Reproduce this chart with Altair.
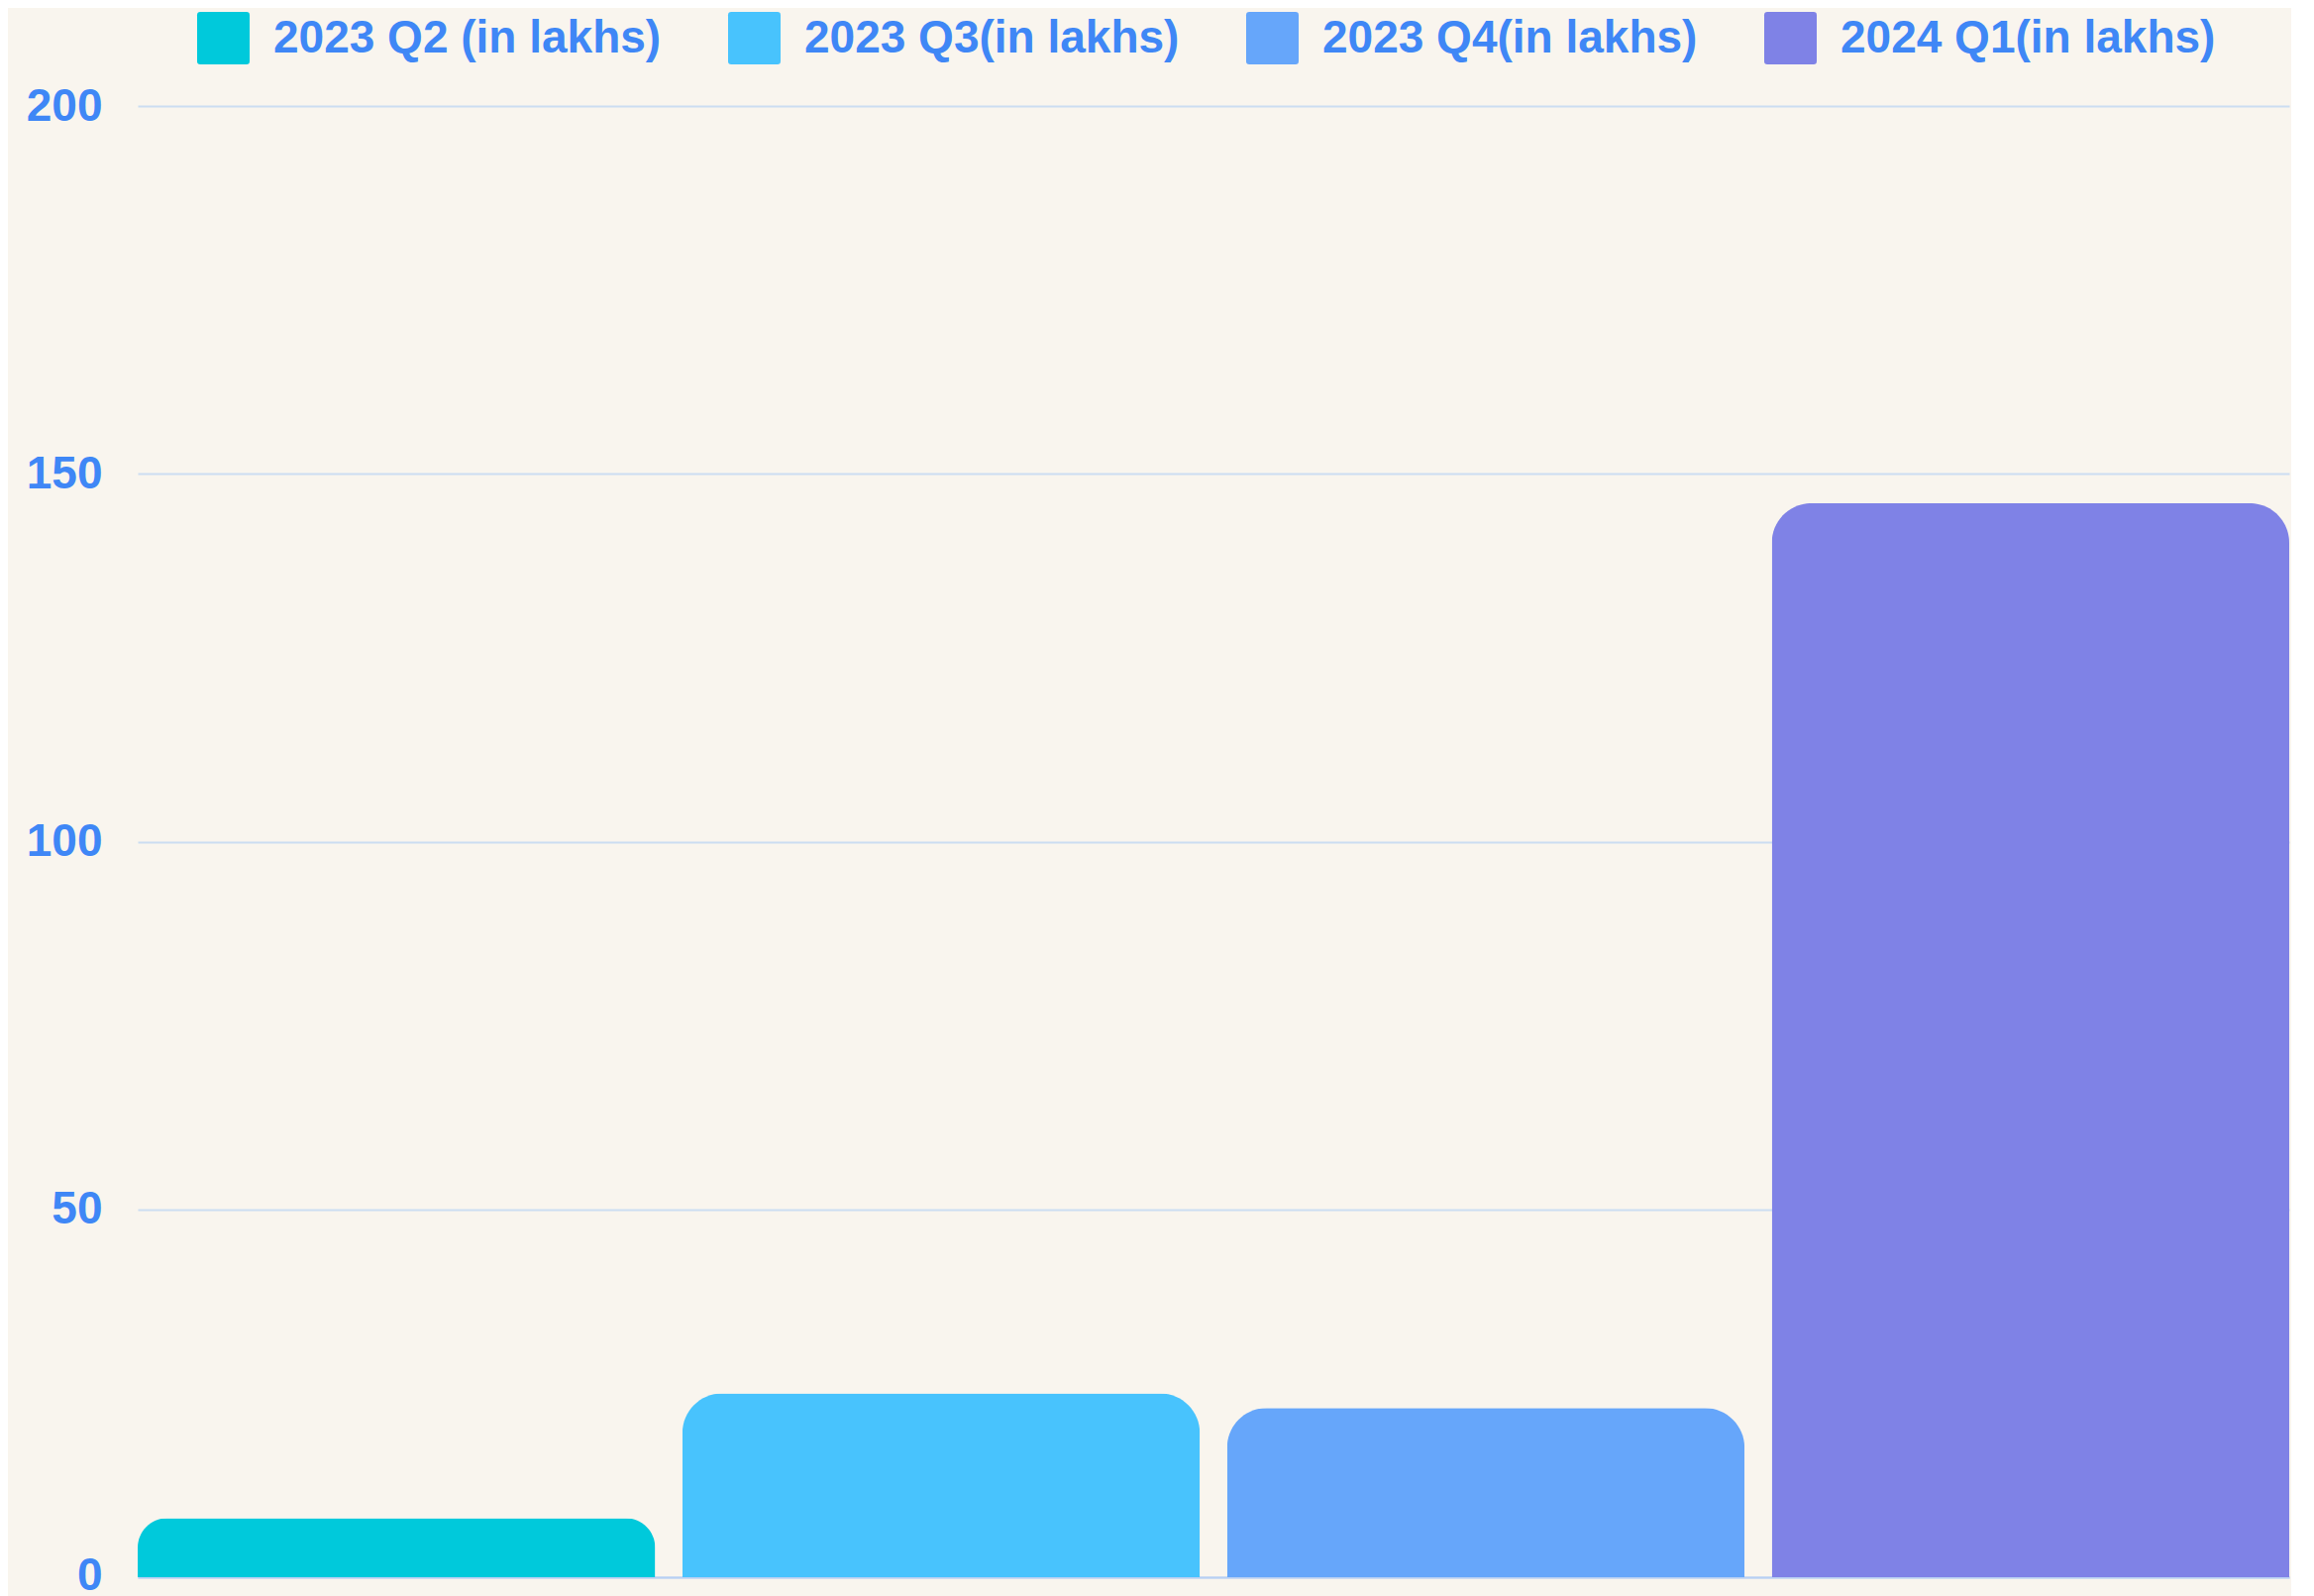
import altair as alt
import pandas as pd

categories = ["2023 Q2 (in lakhs)", "2023 Q3(in lakhs)", "2023 Q4(in lakhs)", "2024 Q1(in lakhs)"]
values = [8, 25, 23, 146]
colors = ["#00C9DB", "#48C3FD", "#66A6FA", "#7F82E6"]
y_ticks = [0, 50, 100, 150, 200]

df = pd.DataFrame({"quarter": categories, "value": values})

FONT = "Liberation Sans"
TEXT = "#3F87F6"
BG = "#F9F5EE"

rounded_square = ("M -0.88 -1 L 0.88 -1 Q 1 -1 1 -0.88 L 1 0.88 Q 1 1 0.88 1 "
                  "L -0.88 1 Q -1 1 -1 0.88 L -1 -0.88 Q -1 -1 -0.88 -1 Z")

chart = alt.Chart(df).mark_bar(
    cornerRadiusTopLeft=40, cornerRadiusTopRight=40
).encode(
    x=alt.X("quarter:N", sort=categories, title=None,
            scale=alt.Scale(paddingInner=0.05, paddingOuter=0),
            axis=alt.Axis(labels=False, ticks=False, domain=True,
                          domainColor="#B7CFF3", domainWidth=2)),
    y=alt.Y("value:Q", title=None,
            scale=alt.Scale(domain=[0, 200], nice=False),
            axis=alt.Axis(values=y_ticks, ticks=False, domain=False,
                          labelFont=FONT, labelFontSize=46, labelFontWeight="bold",
                          labelColor=TEXT, labelPadding=36,
                          labelOffset=alt.ExprRef("datum.value == 0 ? -2 : 0"),
                          gridColor="#CCDDF1", gridWidth=2)),
    color=alt.Color("quarter:N", sort=categories, title=None,
                    scale=alt.Scale(domain=categories, range=colors),
                    legend=alt.Legend(orient="none", direction="horizontal",
                                      legendX=60, legendY=-95,
                                      symbolType=rounded_square, symbolSize=2809,
                                      symbolStrokeWidth=0,
                                      labelFont=FONT, labelFontSize=46,
                                      labelFontWeight="bold", labelColor=TEXT,
                                      labelOffset=24, columnPadding=67,
                                      labelLimit=800, padding=0)),
).properties(
    width=2172, height=1485,
    background=BG,
    padding={"left": 131, "top": 99, "right": 2, "bottom": 30},
    autosize=alt.AutoSizeParams(type="none"),
).configure_view(stroke=None)

chart.save("out.html", embed_options={"renderer": "svg", "actions": False})
